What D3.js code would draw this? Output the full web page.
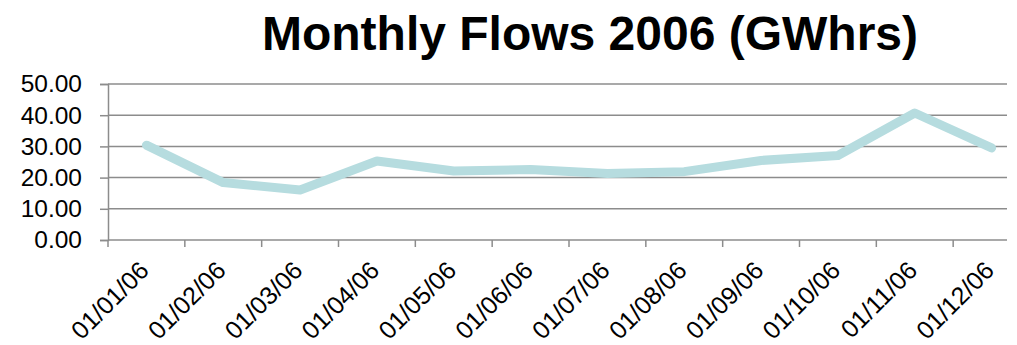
<!DOCTYPE html>
<html>
<head>
<meta charset="utf-8">
<script src="https://cdn.jsdelivr.net/npm/d3@7"></script>
<style>
  html, body { margin: 0; padding: 0; background: #fff; }
  svg { display: block; font-family: "Liberation Sans", Arial, sans-serif; }
</style>
</head>
<body>
<svg id="chart" width="1017" height="345"></svg>
<script>
// Monthly flows for 2006, in GWhrs
const months = ["01/01/06", "01/02/06", "01/03/06", "01/04/06", "01/05/06", "01/06/06",
                "01/07/06", "01/08/06", "01/09/06", "01/10/06", "01/11/06", "01/12/06"];
const flows = [30.4, 18.4, 16.0, 25.3, 22.1, 22.6, 21.3, 21.9, 25.5, 27.1, 40.7, 29.5];
const yTicks = [0, 10, 20, 30, 40, 50];
const title = "Monthly Flows 2006 (GWhrs)";

const svg = d3.select("#chart");
const plot = { left: 108, top: 84, bottom: 240, right: 1030, gridEnd: 1007 };

const x = d3.scaleBand().domain(months).range([plot.left, plot.right]).paddingInner(0).paddingOuter(0);
const y = d3.scaleLinear().domain([0, 50]).range([plot.bottom, plot.top]);

// Title
svg.append("text")
  .attr("x", 590).attr("y", 50)
  .attr("text-anchor", "middle")
  .attr("font-size", 48).attr("font-weight", "bold")
  .attr("fill", "#000")
  .text(title);

// Horizontal gridlines
svg.append("g").selectAll("line").data(yTicks.filter(d => d > 0)).join("line")
  .attr("x1", plot.left).attr("x2", plot.gridEnd)
  .attr("y1", d => y(d)).attr("y2", d => y(d))
  .attr("stroke", "#8c8c8c").attr("stroke-width", 1.5);

// Y axis
const yAxis = svg.append("g")
  .attr("transform", `translate(${plot.left},0)`)
  .call(d3.axisLeft(y).tickValues(yTicks).tickFormat(d3.format(".2f")).tickSize(8).tickPadding(18));
yAxis.select(".domain").attr("stroke", "#8c8c8c").attr("stroke-width", 1.5);
yAxis.selectAll(".tick line").attr("stroke", "#8c8c8c").attr("stroke-width", 1.5);
yAxis.selectAll(".tick text")
  .attr("font-size", 24.5).attr("fill", "#000")
  .attr("font-family", "Liberation Sans, Arial, sans-serif");

// X axis: ticks sit on category boundaries
const bounds = months.map(m => x(m));
const xg = svg.append("g");
xg.append("line")
  .attr("x1", plot.left).attr("x2", plot.gridEnd)
  .attr("y1", plot.bottom).attr("y2", plot.bottom)
  .attr("stroke", "#8c8c8c").attr("stroke-width", 1.5);
xg.selectAll("line.tk").data(bounds).join("line").attr("class", "tk")
  .attr("x1", d => d).attr("x2", d => d)
  .attr("y1", plot.bottom).attr("y2", plot.bottom + 7)
  .attr("stroke", "#8c8c8c").attr("stroke-width", 1.5);
xg.selectAll("text").data(months).join("text")
  .attr("transform", d => `translate(${x(d) + x.bandwidth() / 2 + 4},${plot.bottom + 32}) rotate(-45)`)
  .attr("text-anchor", "end")
  .attr("font-size", 25).attr("fill", "#000")
  .text(d => d);

// Flow line
const line = d3.line()
  .x((d, i) => x(months[i]) + x.bandwidth() / 2)
  .y(d => y(d));
svg.append("path")
  .datum(flows)
  .attr("d", line)
  .attr("fill", "none")
  .attr("stroke", "#b6dcdf")
  .attr("stroke-width", 9)
  .attr("stroke-linejoin", "round")
  .attr("stroke-linecap", "round");
</script>
</body>
</html>
